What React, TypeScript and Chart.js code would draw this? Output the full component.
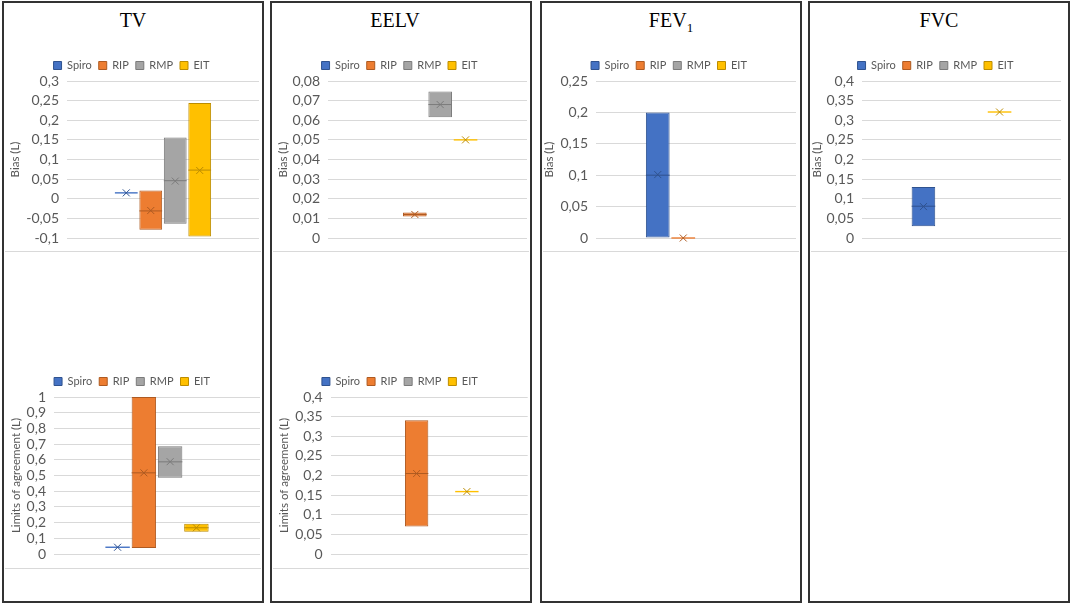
import { useEffect, useRef } from 'react';
import { Chart, registerables } from 'chart.js';

Chart.register(...registerables);

// Methods (series) and their Excel-like colours
const methods = ['Spiro', 'RIP', 'RMP', 'EIT'];
const fills = ['#4472C4', '#ED7D31', '#A5A5A5', '#FFC000'];
const edges = ['#2F528F', '#AE5A21', '#7B7B7B', '#BC8C00'];

// TV - bias (L)
const tvBiasLow = [0.015, -0.079, -0.064, -0.096];
const tvBiasHigh = [0.015, 0.021, 0.156, 0.244];
const tvBiasMedian = [0.015, -0.031, 0.046, 0.073];
const tvBiasMean = [0.015, -0.03, 0.045, 0.072];

// EELV - bias (L)
const eelvBiasLow = [null, 0.011, 0.0615, 0.05];
const eelvBiasHigh = [null, 0.013, 0.0747, 0.05];
const eelvBiasMedian = [null, 0.012, 0.068, 0.05];
const eelvBiasMean = [null, 0.012, 0.068, 0.05];

// FEV1 - bias (L)
const fevBiasLow = [0, 0, null, null];
const fevBiasHigh = [0.2, 0, null, null];
const fevBiasMedian = [0.1, 0, null, null];
const fevBiasMean = [0.101, 0, null, null];

// FVC - bias (L)
const fvcBiasLow = [0.03, null, null, 0.321];
const fvcBiasHigh = [0.13, null, null, 0.321];
const fvcBiasMedian = [0.081, null, null, 0.321];
const fvcBiasMean = [0.08, null, null, 0.321];

// TV - limits of agreement (L)
const tvLoaLow = [0.043, 0.038, 0.485, 0.142];
const tvLoaHigh = [0.043, 1.0, 0.686, 0.193];
const tvLoaMedian = [0.043, 0.517, 0.587, 0.167];
const tvLoaMean = [0.043, 0.517, 0.588, 0.167];

// EELV - limits of agreement (L)
const eelvLoaLow = [null, 0.07, null, 0.159];
const eelvLoaHigh = [null, 0.341, null, 0.159];
const eelvLoaMedian = [null, 0.205, null, 0.159];
const eelvLoaMean = [null, 0.205, null, 0.159];

Chart.defaults.font.family = 'Lato, "Open Sans", sans-serif';

type Num = number | null;

// draws the median line and the mean "x" on every box
const boxMarks = {
  id: 'boxMarks',
  afterDatasetsDraw(chart: any) {
    const { ctx } = chart;
    const yScale = chart.scales.y;
    chart.data.datasets.forEach((ds: any, i: number) => {
      if (ds.median == null || ds.data[0] == null) return;
      const bar = chart.getDatasetMeta(i).data[0];
      if (!bar) return;
      const { x, width } = bar.getProps(['x', 'width'], true);
      const flat = ds.data[0][0] === ds.data[0][1];
      const ym = yScale.getPixelForValue(ds.median);
      ctx.save();
      ctx.strokeStyle = flat ? ds.backgroundColor : ds.borderColor;
      ctx.lineWidth = flat ? 1.4 : 1;
      ctx.beginPath();
      ctx.moveTo(x - width / 2, ym);
      ctx.lineTo(x + width / 2, ym);
      ctx.stroke();
      const yx = yScale.getPixelForValue(ds.mean);
      const r = 3.5;
      ctx.strokeStyle = ds.borderColor;
      ctx.lineWidth = 1;
      ctx.beginPath();
      ctx.moveTo(x - r, yx - r);
      ctx.lineTo(x + r, yx + r);
      ctx.moveTo(x - r, yx + r);
      ctx.lineTo(x + r, yx - r);
      ctx.stroke();
      ctx.restore();
    });
  },
};

interface BoxChartProps {
  low: Num[];
  high: Num[];
  median: Num[];
  mean: Num[];
  min: number;
  max: number;
  step: number;
  yTitle: string;
  left: number;
  top: number;
  axisWidth: number;
  titleOffset: number;
  padRight: number;
}

function BoxChart(p: BoxChartProps) {
  const canvasRef = useRef<HTMLCanvasElement>(null);

  useEffect(() => {
    if (!canvasRef.current) return;
    const chart = new Chart(canvasRef.current, {
      type: 'bar',
      data: {
        labels: [''],
        datasets: methods.map((m, i) => ({
          label: m,
          data: [p.low[i] == null ? null : [p.low[i], p.high[i]]],
          backgroundColor: fills[i],
          borderColor: edges[i],
          borderWidth: 1,
          borderSkipped: false,
          categoryPercentage: 0.51,
          barPercentage: 0.93,
          median: p.median[i],
          mean: p.mean[i],
        })) as any,
      },
      options: {
        responsive: true,
        maintainAspectRatio: false,
        animation: false,
        layout: { padding: { top: 3.5, right: p.padRight, left: 0, bottom: 0 } },
        plugins: {
          legend: {
            position: 'top',
            labels: {
              boxWidth: 8,
              boxHeight: 8,
              padding: 7,
              color: '#595959',
              font: { size: 11 },
            },
          },
          tooltip: { enabled: false },
        },
        scales: {
          x: { type: 'category', display: false },
          y: {
            min: p.min,
            max: p.max,
            ticks: {
              stepSize: p.step,
              autoSkip: false,
              color: '#595959',
              font: { size: 14, lineHeight: 1 },
              padding: 8,
              callback: (v: any) => (Math.round(Number(v) * 1000) / 1000).toString().replace('.', ','),
            },
            grid: { color: '#d9d9d9', drawTicks: false },
            border: { display: false },
            title: {
              display: true,
              text: p.yTitle,
              color: '#595959',
              font: { size: 11.5 },
              padding: { top: p.titleOffset - 6.9, bottom: 0 },
            },
            afterFit: (s: any) => {
              s.width = p.axisWidth;
              s.paddingTop = 43;
              s.paddingBottom = 12;
            },
          },
        },
      },
      plugins: [boxMarks],
    });
    return () => chart.destroy();
  }, []);

  return (
    <div style={{ position: 'absolute', left: p.left, top: p.top, width: 258, height: 212 }}>
      <canvas ref={canvasRef} />
    </div>
  );
}

const panelLefts = [2, 270, 540, 808];

export default function App() {
  useEffect(() => {
    document.body.style.margin = '0';
  }, []);

  const titles = [<>TV</>, <>EELV</>, <>FEV<sub style={{ fontSize: 13 }}>1</sub></>, <>FVC</>];

  return (
    <div style={{ position: 'relative', width: 1074, height: 606, background: '#fff', overflow: 'hidden' }}>
      {panelLefts.map((l, i) => (
        <div key={i}>
          <div
            style={{
              position: 'absolute', left: l, top: 1, width: 262, height: 602,
              border: '2px solid #333', boxSizing: 'border-box',
            }}
          />
          <div
            style={{
              position: 'absolute', left: l, top: 8, width: i === 1 ? 250 : 262, textAlign: 'center',
              fontFamily: '"Liberation Serif", "Times New Roman", serif', fontSize: 20, lineHeight: '24px', color: '#000',
            }}
          >
            {titles[i]}
          </div>
          <div style={{ position: 'absolute', left: l + 3, top: 251, width: 256, height: 1, background: '#d9d9d9' }} />
          {i < 2 && (
            <div style={{ position: 'absolute', left: l + 3, top: 568, width: 256, height: 1, background: '#d9d9d9' }} />
          )}
        </div>
      ))}

      <BoxChart low={tvBiasLow} high={tvBiasHigh} median={tvBiasMedian} mean={tvBiasMean}
        min={-0.1} max={0.3} step={0.05} yTitle="Bias (L)"
        left={4} top={38} axisWidth={63} titleOffset={11} padRight={3} />
      <BoxChart low={eelvBiasLow} high={eelvBiasHigh} median={eelvBiasMedian} mean={eelvBiasMean}
        min={0} max={0.08} step={0.01} yTitle="Bias (L)"
        left={272} top={38} axisWidth={56} titleOffset={11} padRight={3} />
      <BoxChart low={fevBiasLow} high={fevBiasHigh} median={fevBiasMedian} mean={fevBiasMean}
        min={0} max={0.25} step={0.05} yTitle="Bias (L)"
        left={542} top={38} axisWidth={54} titleOffset={7.3} padRight={4} />
      <BoxChart low={fvcBiasLow} high={fvcBiasHigh} median={fvcBiasMedian} mean={fvcBiasMean}
        min={0} max={0.4} step={0.05} yTitle="Bias (L)"
        left={810} top={38} axisWidth={52} titleOffset={7} padRight={7} />
      <BoxChart low={tvLoaLow} high={tvLoaHigh} median={tvLoaMedian} mean={tvLoaMean}
        min={0} max={1} step={0.1} yTitle="Limits of agreement (L)"
        left={4} top={354} axisWidth={50} titleOffset={12} padRight={2} />
      <BoxChart low={eelvLoaLow} high={eelvLoaHigh} median={eelvLoaMedian} mean={eelvLoaMean}
        min={0} max={0.4} step={0.05} yTitle="Limits of agreement (L)"
        left={272} top={354} axisWidth={58.7} titleOffset={12} padRight={2.3} />
    </div>
  );
}
